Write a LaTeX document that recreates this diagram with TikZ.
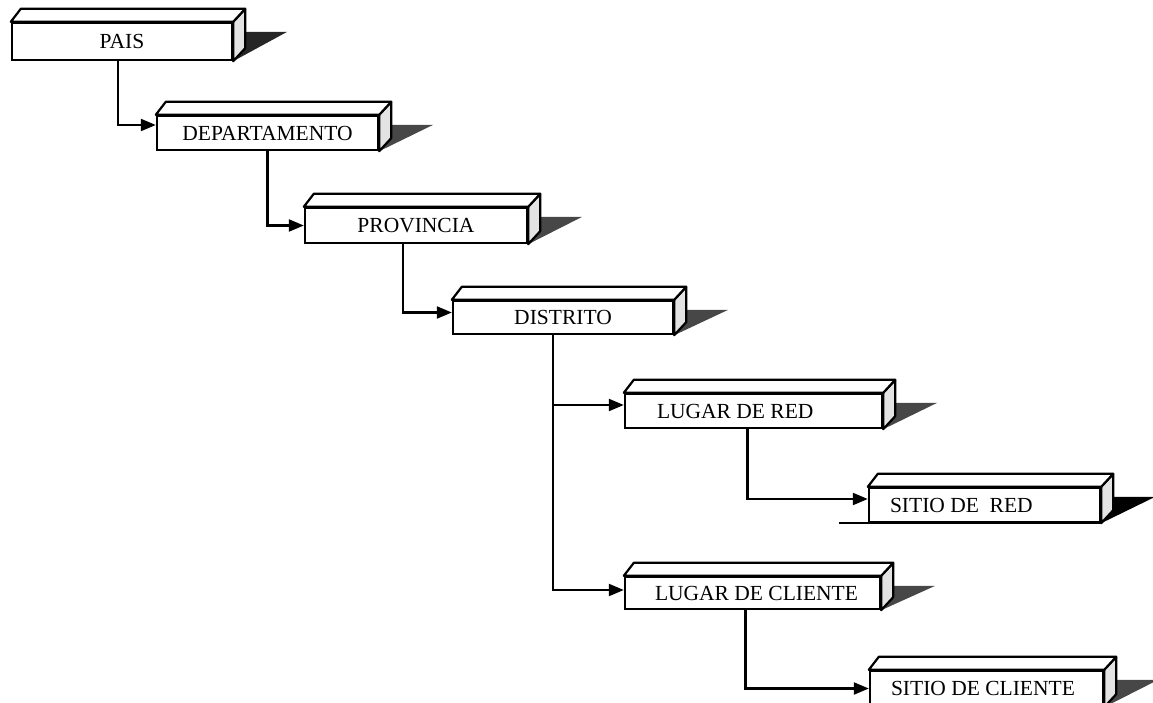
\documentclass[tikz,border=0pt]{standalone}
\usepackage{fontspec}
\setmainfont{Liberation Serif}
\usetikzlibrary{arrows.meta,calc}

\tikzset{
  stepbox/.style={draw, line width=2.4pt, fill=white, inner xsep=0pt, inner ysep=0pt,
    font=\fontsize{21.5}{25}\selectfont},
  conn/.style={line width=2.2pt, -{Triangle[length=15pt,width=12pt]}},
  shade3d/.style={fill=black!72},
}

% label set flush left inside a front face of the given width
\newcommand\leftlabel[3]{\makebox[#1][l]{\hspace*{#2}#3}}

% top face, side face and cast shadow of a block
\newcommand\blockdeco[2]{%
  \fill[#2] ([shift={(12,10)}]#1.north east) -- ([shift={(54,10)}]#1.north east) -- (#1.south east) -- cycle;
  \filldraw[fill=gray!22, line width=2.2pt, line join=round]
    (#1.north east) -- ++(12,-13) -- ([shift={(12,-13)}]#1.south east) -- (#1.south east) -- cycle;
  \filldraw[fill=white, line width=2.2pt, line join=round]
    (#1.north west) -- ++(10,-13) -- ([shift={(12,-13)}]#1.north east) -- (#1.north east) -- cycle;
}

\begin{document}
\begin{tikzpicture}[x=1pt, y=-1pt]
\useasboundingbox (0,0) rectangle (1153,703);

% blocks (front faces)
\node[stepbox, minimum width=220pt, minimum height=37pt] (pais) at (122,41.5) {PAIS};
\node[stepbox, minimum width=221pt, minimum height=34pt] (dep) at (267.5,133) {DEPARTAMENTO};
\node[stepbox, minimum width=222pt, minimum height=35pt] (prov) at (416,225.5) {PROVINCIA};
\node[stepbox, minimum width=220pt, minimum height=33pt] (dist) at (563,317.5) {DISTRITO};
\node[stepbox, minimum height=34pt] (lugred) at (753.5,411) {\leftlabel{257pt}{32pt}{LUGAR DE RED}};
\node[stepbox, minimum height=34pt] (sitred) at (984.5,505) {\leftlabel{231pt}{21pt}{SITIO DE\ \ RED}};
\node[stepbox, minimum height=32pt] (lugcli) at (752.5,593) {\leftlabel{255pt}{30pt}{LUGAR DE CLIENTE}};
\node[stepbox, minimum height=35pt] (sitcli) at (986.5,688.5) {\leftlabel{233pt}{21pt}{SITIO DE CLIENTE}};

\blockdeco{pais}{black!85}
\blockdeco{dep}{shade3d}
\blockdeco{prov}{shade3d}
\blockdeco{dist}{shade3d}
\blockdeco{lugred}{shade3d}
\blockdeco{sitred}{black}
\blockdeco{lugcli}{shade3d}
\blockdeco{sitcli}{shade3d}

% ground line under SITIO DE RED
\draw[line width=2.2pt] ([xshift=-29pt]sitred.south west) -- (sitred.south east);

% connectors
\draw[conn] ([xshift=-4pt]pais.south) |- ([yshift=8pt]dep.west);
\draw[conn] (dep.south) |- (prov.west);
\draw[conn] ([xshift=-13pt]prov.south) |- ([yshift=5pt]dist.west);
\draw[conn] ([xshift=-10pt]dist.south) |- ([yshift=6pt]lugred.west);
\draw[conn] ([xshift=-10pt]dist.south) |- ([yshift=3pt]lugcli.west);
\draw[conn] ([xshift=-6pt]lugred.south) |- ([yshift=6pt]sitred.west);
\draw[conn] ([xshift=-7pt]lugcli.south) |- (sitcli.west);
\end{tikzpicture}
\end{document}
